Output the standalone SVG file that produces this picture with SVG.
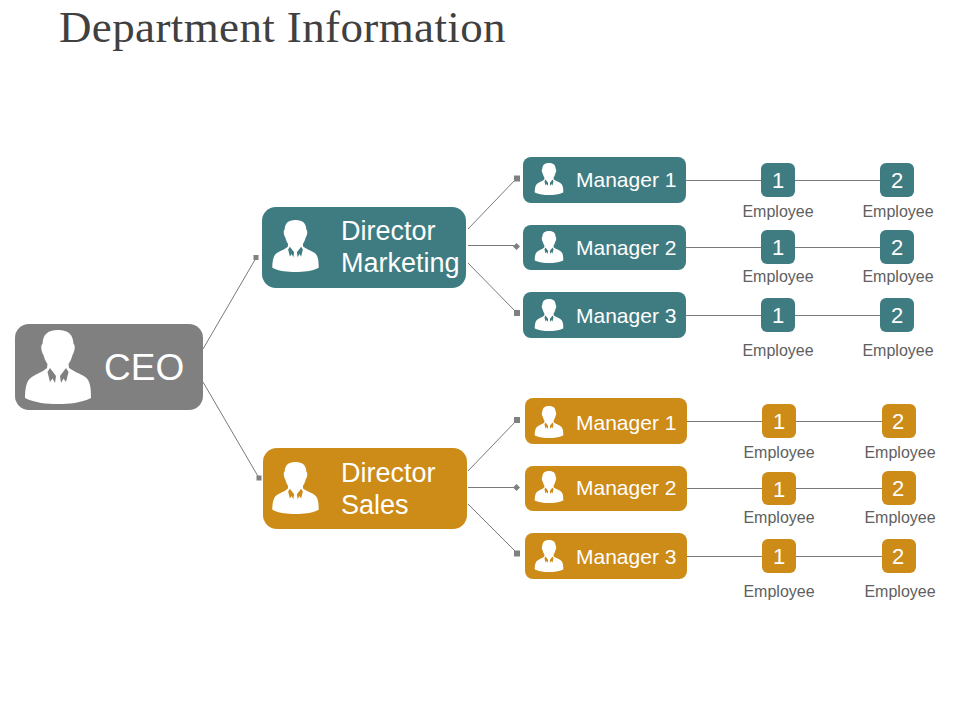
<svg xmlns="http://www.w3.org/2000/svg" xmlns:xlink="http://www.w3.org/1999/xlink" width="960" height="720" viewBox="0 0 960 720">
<style>
.t{fill:#3f7c81}.o{fill:#cd8b17}.g{fill:#808080}
text{font-family:"Liberation Sans",Arial,sans-serif}
.lbl{fill:#fff;font-size:21px}
.dir{fill:#fff;font-size:27px}
.num{fill:#fff;font-size:22px;text-anchor:middle}
.emp{fill:#606060;font-size:16px;text-anchor:middle}
#conn path{fill:none;stroke:#7a7a7a;stroke-width:1}
#conn rect,#conn path.d{fill:#808080;stroke:none}
</style>
<defs>
<symbol id="p" viewBox="0 0 66 74" overflow="visible">
<path fill="#fff" d="M33 0C44 0 48 5 48.500 14C50.500 15 50 21 47.500 25C46.500 29 45 32 43.500 34L44 38L49 41C56 45 62 46 64 52C65.500 56 66 60 66 68C56 73 44 74 33 74C22 74 10 73 0 68C0 60 1 55 3 51C6 46 11 45 18 41L22 38L22.500 34C21 32 19.500 29 18.500 25C16 21 15.500 15 17.500 14C18 5 22 0 33 0Z"/>
<path fill="currentColor" d="M25 38L31 46L30 53L27.500 48.500L25 52L22.500 42ZM41 38L35 46L36 53L38.500 48.500L41 52L43.500 42Z"/>
</symbol>
</defs>
<rect width="960" height="720" fill="#fff"/>
<text x="59" y="42" textLength="447" lengthAdjust="spacingAndGlyphs" style="font-family:'Liberation Serif',serif;font-size:44px;letter-spacing:.4px;fill:#404040">Department Information</text>

<g id="conn">
<path d="M203 349L256 258M203 382L259 478"/>
<rect x="253.500" y="255" width="5" height="5"/><rect x="256.500" y="475.500" width="5" height="5"/>
<path d="M468 229L517 178M468 245.500H517M468 263L517 313"/>
<rect x="514" y="175.500" width="6" height="6"/><path class="d" d="M516.500 243L520 246.500L516.500 250L513 246.500Z"/><rect x="514" y="310" width="6" height="6"/>
<path d="M468 471L517 420M468 487.500H517M468 504L517 553"/>
<rect x="514" y="417" width="6" height="6"/><path class="d" d="M516.500 484L520 487.500L516.500 491L513 487.500Z"/><rect x="514" y="550.500" width="6" height="6"/>
<path d="M686 180.500H881M686 247.500H881M686 315.500H881M687 421.500H883M687 488.500H883M687 556.500H883"/>
</g>

<g id="ceo" color="#808080"><rect class="g" x="15" y="324" width="188" height="86" rx="14"/><use xlink:href="#p" x="25" y="330" width="66" height="74"/><text x="104" y="380" style="fill:#fff;font-size:37px">CEO</text></g>

<g id="dir-marketing" color="#3f7c81"><rect class="t" x="262" y="207" width="204" height="81" rx="14"/><use xlink:href="#p" x="272" y="220" width="47" height="52"/><text class="dir" x="341" y="240">Director</text><text class="dir" x="341" y="272">Marketing</text></g>
<g id="dir-sales" color="#cd8b17"><rect class="o" x="263" y="448" width="204" height="81" rx="14"/><use xlink:href="#p" x="272" y="462" width="47" height="52"/><text class="dir" x="341" y="482">Director</text><text class="dir" x="341" y="514">Sales</text></g>

<g id="m-mgr1" color="#3f7c81"><rect class="t" x="523" y="157" width="163" height="46" rx="8"/><use xlink:href="#p" x="534" y="163" width="30" height="32"/><text class="lbl" x="576" y="187">Manager 1</text></g>
<g id="m-mgr2" color="#3f7c81"><rect class="t" x="523" y="225" width="163" height="45" rx="8"/><use xlink:href="#p" x="534" y="231" width="30" height="32"/><text class="lbl" x="576" y="255">Manager 2</text></g>
<g id="m-mgr3" color="#3f7c81"><rect class="t" x="523" y="292" width="163" height="46" rx="8"/><use xlink:href="#p" x="534" y="299" width="30" height="32"/><text class="lbl" x="576" y="323">Manager 3</text></g>
<g id="s-mgr1" color="#cd8b17"><rect class="o" x="525" y="398" width="162" height="46" rx="8"/><use xlink:href="#p" x="534" y="406" width="30" height="32"/><text class="lbl" x="576" y="430">Manager 1</text></g>
<g id="s-mgr2" color="#cd8b17"><rect class="o" x="525" y="466" width="162" height="45" rx="8"/><use xlink:href="#p" x="534" y="471" width="30" height="32"/><text class="lbl" x="576" y="495">Manager 2</text></g>
<g id="s-mgr3" color="#cd8b17"><rect class="o" x="525" y="533" width="162" height="46" rx="8"/><use xlink:href="#p" x="534" y="540" width="30" height="32"/><text class="lbl" x="576" y="564">Manager 3</text></g>

<g id="m1e1"><rect class="t" x="761" y="163" width="34" height="34" rx="6"/><text class="num" x="778" y="188">1</text><text class="emp" x="778" y="217">Employee</text></g>
<g id="m1e2"><rect class="t" x="880" y="163" width="34" height="34" rx="6"/><text class="num" x="897" y="188">2</text><text class="emp" x="898" y="217">Employee</text></g>
<g id="m2e1"><rect class="t" x="761" y="230" width="34" height="34" rx="6"/><text class="num" x="778" y="255">1</text><text class="emp" x="778" y="282">Employee</text></g>
<g id="m2e2"><rect class="t" x="880" y="230" width="34" height="34" rx="6"/><text class="num" x="897" y="255">2</text><text class="emp" x="898" y="282">Employee</text></g>
<g id="m3e1"><rect class="t" x="761" y="298" width="34" height="34" rx="6"/><text class="num" x="778" y="323">1</text><text class="emp" x="778" y="356">Employee</text></g>
<g id="m3e2"><rect class="t" x="880" y="298" width="34" height="34" rx="6"/><text class="num" x="897" y="323">2</text><text class="emp" x="898" y="356">Employee</text></g>
<g id="s1e1"><rect class="o" x="762" y="404" width="34" height="34" rx="6"/><text class="num" x="779" y="429">1</text><text class="emp" x="779" y="458">Employee</text></g>
<g id="s1e2"><rect class="o" x="882" y="404" width="34" height="34" rx="6"/><text class="num" x="898" y="429">2</text><text class="emp" x="900" y="458">Employee</text></g>
<g id="s2e1"><rect class="o" x="762" y="472" width="34" height="33" rx="6"/><text class="num" x="779" y="497">1</text><text class="emp" x="779" y="523">Employee</text></g>
<g id="s2e2"><rect class="o" x="882" y="471" width="34" height="34" rx="6"/><text class="num" x="898" y="496">2</text><text class="emp" x="900" y="523">Employee</text></g>
<g id="s3e1"><rect class="o" x="762" y="539" width="34" height="34" rx="6"/><text class="num" x="779" y="564">1</text><text class="emp" x="779" y="597">Employee</text></g>
<g id="s3e2"><rect class="o" x="882" y="539" width="34" height="34" rx="6"/><text class="num" x="898" y="564">2</text><text class="emp" x="900" y="597">Employee</text></g>
</svg>
